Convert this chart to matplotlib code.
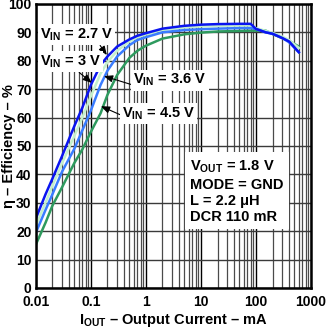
import matplotlib
matplotlib.use("Agg")
import matplotlib.pyplot as plt
from matplotlib.ticker import FixedLocator, NullFormatter

plt.rcParams['font.family'] = ['Liberation Sans', 'DejaVu Sans']
plt.rcParams['font.weight'] = 'bold'
plt.rcParams['axes.labelweight'] = 'bold'
plt.rcParams['mathtext.fontset'] = 'custom'
plt.rcParams['mathtext.rm'] = 'Liberation Sans:bold'
plt.rcParams['mathtext.bf'] = 'Liberation Sans:bold'

# output current, mA
current = [0.01, 0.015, 0.02, 0.03, 0.05, 0.07, 0.1, 0.15, 0.2, 0.3, 0.5, 0.7,
           1, 2, 5, 10, 20, 50, 80, 100, 150, 200, 300, 400, 600]

# efficiency, %
eff_27 = [24.5, 33, 38.5, 46.5, 57, 63.5, 71.5, 78.5, 81.5, 85, 87.5, 88.8,
          89.7, 91.3, 92.3, 92.7, 92.9, 93, 93, 91.2, 90, 89.5, 88, 86.8, 83]
eff_30 = [19.5, 27.5, 33, 41, 49, 55.5, 62.5, 71.5, 76.5, 81.5, 85.5, 87.3,
          88.3, 90, 90.8, 91.1, 91.3, 91.5, 91.5, 91.2, 90, 89.5, 88, 86.5, 83]
eff_36 = [22, 30, 36, 44, 53.5, 60, 67.5, 75.5, 79.5, 83.5, 86.8, 88.2,
          89.2, 90.8, 91.7, 92.1, 92.3, 92.4, 92.4, 91.5, 90.5, 89.8, 88.5, 87.3, 84.5]
eff_45 = [15.3, 23, 29, 35.5, 44, 48.8, 55, 61.5, 68, 75, 81, 83.5,
          85.3, 87.8, 89.3, 89.9, 90.3, 90.5, 90.6, 90.6, 90.6, 89.4, 88, 87, 85]

x_ticks = [0.01, 0.1, 1, 10, 100, 1000]
x_tick_labels = ["0.01", "0.1", "1", "10", "100", "1000"]
y_ticks = list(range(0, 101, 10))

fig = plt.figure(figsize=(3.26, 3.28), dpi=100)
ax = fig.add_axes([0.110, 0.122, 0.844, 0.866])

# grid
ax.set_xscale("log")
ax.set_xlim(0.01, 1000)
ax.set_ylim(0, 100)
minors = [m * 10.0 ** e for e in range(-2, 3) for m in range(2, 10)]
ax.xaxis.set_minor_locator(FixedLocator(minors))
ax.xaxis.set_minor_formatter(NullFormatter())
ax.set_xticks(x_ticks)
ax.set_xticklabels(x_tick_labels)
ax.set_yticks(y_ticks)
ax.grid(True, which="major", axis="x", color="black", lw=1.0)
ax.grid(True, which="minor", axis="x", color="#4a4a4a", lw=0.9)
ax.grid(True, which="major", axis="y", color="#3a3a3a", lw=1.0)
ax.tick_params(which="both", length=0, labelsize=10)
ax.tick_params(axis="y", pad=3)
ax.tick_params(axis="x", pad=5)
for s in ax.spines.values():
    s.set_linewidth(1.8)
    s.set_zorder(5)

# curves
ax.plot(current, eff_45, color="#2e9a5e", lw=1.8, zorder=3)
ax.plot(current, eff_36, color="#c4f0cc", lw=1.8, zorder=3)
ax.plot(current, eff_30, color="#3a7cff", lw=1.8, zorder=3)
ax.plot(current, eff_27, color="#0a14f0", lw=1.8, zorder=3)

box = dict(boxstyle="square,pad=0.15", fc="white", ec="none")
arrow = dict(arrowstyle="-|>,head_length=0.5,head_width=0.2", color="black", lw=0.8,
             shrinkA=0, shrinkB=0)

ax.annotate("V$_{\\mathregular{IN}}$ = 2.7 V", xy=(0.195, 82), xytext=(0.055, 89.1),
            ha="center", va="center", fontsize=10.5, bbox=box, zorder=6,
            arrowprops=dict(arrow, relpos=(0.8, 0.0)))
ax.annotate("V$_{\\mathregular{IN}}$ = 3 V", xy=(0.104, 72.2), xytext=(0.0425, 79.6),
            ha="center", va="center", fontsize=10.5, bbox=box, zorder=6,
            arrowprops=dict(arrow, relpos=(0.6, 0.0)))
ax.annotate("V$_{\\mathregular{IN}}$ = 3.6 V", xy=(0.172, 74.6), xytext=(2.7, 73.2),
            ha="center", va="center", fontsize=10.5, bbox=box, zorder=6,
            arrowprops=dict(arrow, relpos=(0.0, 0.2)))
ax.annotate("V$_{\\mathregular{IN}}$ = 4.5 V", xy=(0.152, 64), xytext=(1.7, 61.3),
            ha="center", va="center", fontsize=10.5, bbox=box, zorder=6,
            arrowprops=dict(arrow, relpos=(0.0, 0.4)))

ax.text(6.4, 34, "V$_{\\mathregular{OUT}}$ = 1.8 V\nMODE = GND\nL = 2.2 \u03bcH\nDCR 110 mR",
        ha="left", va="center", fontsize=10.5, linespacing=1.2,
        bbox=dict(boxstyle="square,pad=0.35", fc="white", ec="none"), zorder=6)

ax.set_xlabel("I$_{\\mathregular{OUT}}$ \u2013 Output Current \u2013 mA", fontsize=10.5)
ax.set_ylabel("\u03b7 \u2013 Efficiency \u2013 %", fontsize=10.5)
ax.xaxis.set_label_coords(0.5, -0.085)
ax.yaxis.set_label_coords(-0.072, 0.5)

fig.savefig("out.png", dpi=100)
